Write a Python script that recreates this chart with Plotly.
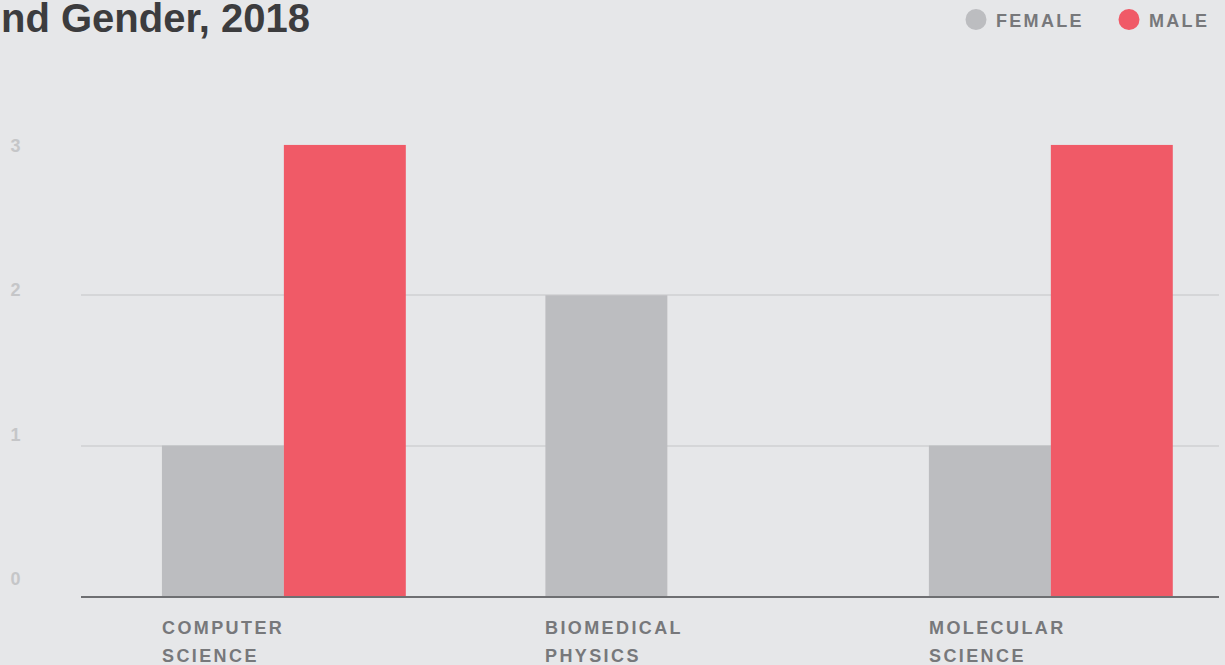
import plotly.graph_objects as go

# ---------------- data ----------------
categories = ["COMPUTER SCIENCE", "BIOMEDICAL PHYSICS", "MOLECULAR SCIENCE"]
female = [1, 2, 1]
male = [3, 0, 3]
y_ticks = [0, 1, 2, 3]
series_names = ["FEMALE", "MALE"]
title_text = "nd Gender, 2018"

# ---------------- style ----------------
W, H = 1225, 665
BG = "#e6e7e9"
C_FEMALE = "#bcbdc0"
C_MALE = "#f05a67"
GRID = "#d5d6d8"
AXIS = "#6e6f72"
LABEL = "#77787b"
TICK = "#c5c6c8"
TITLE = "#3c3c3e"
FONT = "Liberation Sans, Arial, Helvetica, sans-serif"

# plot area in pixels
PL, PR = 81, 1219
PT, PB = 144.8, 596
x_range = [-0.529, 2.4385]
bargap = 0.364

fig = go.Figure()
fig.add_trace(go.Bar(x=categories, y=female, name=series_names[0], marker_color=C_FEMALE,
                     marker_line_width=0, legendgroup="f", showlegend=False))
fig.add_trace(go.Bar(x=categories, y=male, name=series_names[1], marker_color=C_MALE,
                     marker_line_width=0, legendgroup="m", showlegend=False))
# legend entries (circle markers)
for nm, col, grp in [(series_names[0], C_FEMALE, "f"), (series_names[1], C_MALE, "m")]:
    fig.add_trace(go.Scatter(x=[None], y=[None], mode="markers", name=nm, legendgroup=grp,
                             marker=dict(color=col, size=16, symbol="circle",
                                         line=dict(color=col, width=5)),
                             yaxis="y2", hoverinfo="skip"))

# category labels: each word on its own line, left-aligned with the group's first bar
px_per_unit = (PR - PL) / (x_range[1] - x_range[0])
bar_px = (1 - bargap) / 2 * px_per_unit
annotations = [dict(text=f"<b>{title_text}</b>", xref="paper", yref="paper",
                    x=311.5 / W, y=1 - 18 / H, xanchor="right", yanchor="middle",
                    showarrow=False, font=dict(family=FONT, size=40, color=TITLE))]
for cat in categories:
    for k, word in enumerate(cat.split(" ")):
        annotations.append(dict(text=f"<b>{word}</b>", xref="x", yref="y", x=cat, y=0,
                                xanchor="left", yanchor="middle", align="left",
                                xshift=-bar_px - 2, yshift=-31.5 - 28.5 * k,
                                showarrow=False, font=dict(family=FONT, size=18, color=LABEL)))

fig.update_layout(
    width=W, height=H,
    margin=dict(l=0, r=0, t=0, b=0, pad=0, autoexpand=False),
    paper_bgcolor=BG, plot_bgcolor="rgba(0,0,0,0)",
    barmode="group", bargap=bargap, bargroupgap=0,
    font=dict(family=FONT),
    showlegend=True,
    legend=dict(orientation="h", x=956 / W, xanchor="left", y=1 - 1.3 / H, yanchor="top",
                entrywidth=108, bgcolor="rgba(0,0,0,0)",
                font=dict(family=FONT, size=18, color=LABEL, weight="bold")),
    xaxis=dict(domain=[PL / W, PR / W], range=x_range, showticklabels=False, ticks="",
               showgrid=False, zeroline=False, showline=True, linecolor=AXIS, linewidth=2,
               fixedrange=True),
    yaxis=dict(domain=[(H - PB) / H, (H - PT) / H], range=[0, 3], tickvals=y_ticks,
               showticklabels=False, ticks="", showgrid=True, gridcolor=GRID, gridwidth=2,
               zeroline=False, showline=False, fixedrange=True),
    yaxis2=dict(overlaying="y", anchor="free", position=0.0168, side="left",
                range=[-0.1198, 3.0049], tickvals=y_ticks, ticktext=[str(v) for v in y_ticks],
                ticks="", showgrid=False, zeroline=False, showline=False,
                tickfont=dict(family=FONT, size=18, color=TICK, weight="bold"),
                fixedrange=True),
    annotations=annotations,
)

post = """
document.body.style.margin='0';
document.body.style.overflow='hidden';
var gd=document.getElementById('{plot_id}');
function sp(){
  gd.querySelectorAll('.legendtext').forEach(function(t){t.style.letterSpacing='2.3px';});
  gd.querySelectorAll('g.annotation').forEach(function(g){
    if(g.getAttribute('data-index')!=='0'){
      var t=g.querySelector('.annotation-text'); if(t){t.style.letterSpacing='2.4px';}
    }
  });
}
sp(); gd.on('plotly_afterplot', sp);
"""
fig.write_html("out.html", post_script=post, config={"displayModeBar": False})
